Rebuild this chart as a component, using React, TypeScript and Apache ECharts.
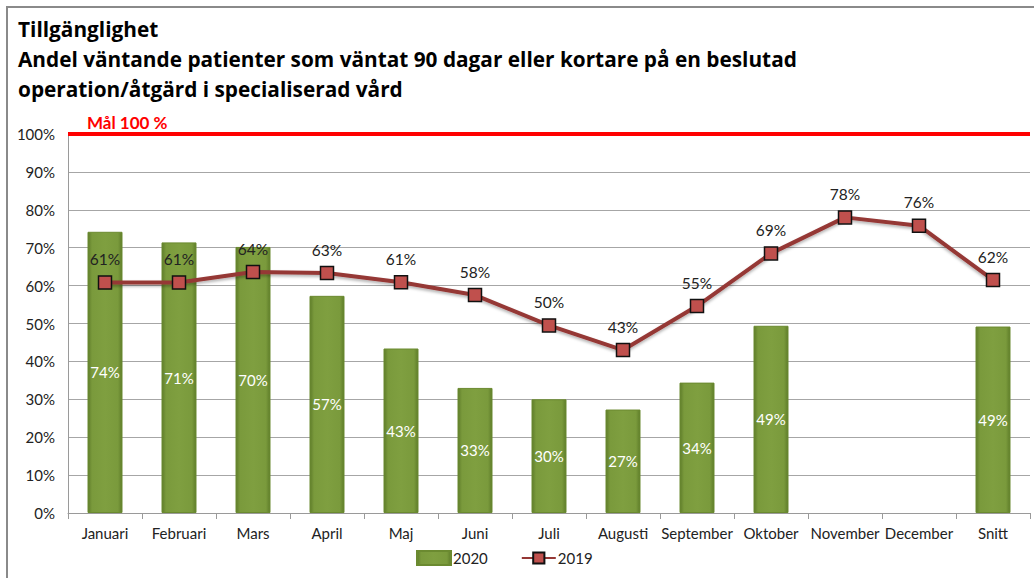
import React, { useEffect, useRef } from "react";
import * as echarts from "echarts";

const categories = ["Januari", "Februari", "Mars", "April", "Maj", "Juni", "Juli", "Augusti", "September", "Oktober", "November", "December", "Snitt"];
const values2020: (number | null)[] = [74.2, 71.4, 70.2, 57.3, 43.4, 33.0, 30.0, 27.3, 34.4, 49.4, null, null, 49.2];
const values2019: number[] = [60.8, 60.8, 63.6, 63.3, 60.9, 57.5, 49.5, 43.0, 54.6, 68.5, 78.0, 75.8, 61.5];
const targetValue = 100;
const targetLabel = "Mål 100 %";
const titleLines = [
  "Tillgänglighet",
  "Andel väntande patienter som väntat 90 dagar eller kortare på en beslutad",
  "operation/åtgärd i specialiserad vård",
];
const FONT = "Lato, 'Open Sans', sans-serif";
const TFONT = "'Open Sans', Lato, sans-serif";

export default function App() {
  const ref = useRef<HTMLDivElement>(null);
  useEffect(() => {
    document.body.style.margin = "0";
    const chart = echarts.init(ref.current!, undefined, { renderer: "svg" });
    chart.setOption({
      animation: false,
      textStyle: { fontFamily: FONT },
      grid: { left: 68, right: 4, top: 134, bottom: 65, containLabel: false },
      graphic: titleLines.map((t, i) => ({
        type: "text",
        left: 18,
        top: 18 + i * 30,
        style: { text: t, fontFamily: TFONT, fontWeight: "bold", fontSize: 20.8, fill: "#000" },
      })),
      legend: {
        bottom: 7,
        left: 411,
        itemGap: 33,
        itemWidth: 34,
        itemHeight: 14,
        textStyle: { fontSize: 15, color: "#222", fontFamily: FONT, padding: [0, 0, 0, -3] },
        data: [
          { name: "2020", icon: "rect" },
          { name: "2019" },
        ],
      },
      xAxis: {
        type: "category",
        data: categories,
        boundaryGap: true,
        axisLine: { lineStyle: { color: "#9a9a9a", width: 1 } },
        axisTick: { show: true, length: 6, lineStyle: { color: "#9a9a9a" } },
        axisLabel: { color: "#222", fontSize: 15, margin: 12, interval: 0, fontFamily: FONT },
      },
      yAxis: {
        type: "value",
        min: 0,
        max: 100,
        interval: 10,
        axisLine: { show: true, lineStyle: { color: "#9a9a9a" } },
        axisTick: { show: false },
        splitLine: { lineStyle: { color: "#a6a6a6", width: 1 } },
        axisLabel: { formatter: "{value}%", color: "#222", fontSize: 15, margin: 13, fontFamily: FONT },
      },
      series: [
        {
          name: "2020",
          type: "bar",
          data: values2020,
          barWidth: 35,
          itemStyle: {
            color: new echarts.graphic.LinearGradient(0, 0, 1, 0, [
              { offset: 0, color: "#5f7d2a" },
              { offset: 0.12, color: "#7a9a3c" },
              { offset: 0.5, color: "#7f9f40" },
              { offset: 0.88, color: "#7a9a3c" },
              { offset: 1, color: "#5f7d2a" },
            ]),
            borderColor: "#6b8a30",
            borderWidth: 1,
          },
          label: {
            show: true,
            position: "inside",
            color: "#fff",
            fontSize: 15,
            fontFamily: FONT,
            formatter: (p: any) => Math.round(p.value) + "%",
          },
          markLine: {
            silent: true,
            symbol: "none",
            data: [{ yAxis: targetValue }],
            lineStyle: { color: "#ff0000", width: 4, type: "solid" },
            label: {
              show: true,
              position: "insideStartTop",
              formatter: targetLabel,
              color: "#ff0000",
              fontWeight: "bold",
              fontSize: 17,
              fontFamily: FONT,
              distance: [19, 3],
            },
          },
        },
        {
          name: "2019",
          type: "line",
          data: values2019,
          smooth: false,
          symbol: "rect",
          symbolSize: 13,
          lineStyle: { color: "#953735", width: 4, shadowColor: "rgba(0,0,0,0.3)", shadowBlur: 3, shadowOffsetY: 2 },
          itemStyle: { color: "#c0504d", borderColor: "#111", borderWidth: 1.5 },
          label: {
            show: true,
            position: "top",
            distance: 8,
            color: "#222",
            fontSize: 15.5,
            fontFamily: FONT,
            formatter: (p: any) => Math.round(p.value) + "%",
          },
          z: 5,
        },
      ],
    });
    return () => chart.dispose();
  }, []);
  return (
    <div style={{ position: "fixed", left: 0, top: 0, width: 1034, height: 578, background: "#fff" }}>
      <div style={{ position: "absolute", left: 6, top: 6, width: 1028, height: 572, borderLeft: "2px solid #8a8a8a", borderTop: "2px solid #8a8a8a" }} />
      <div ref={ref} style={{ position: "absolute", left: 0, top: 0, width: 1034, height: 578 }} />
    </div>
  );
}
